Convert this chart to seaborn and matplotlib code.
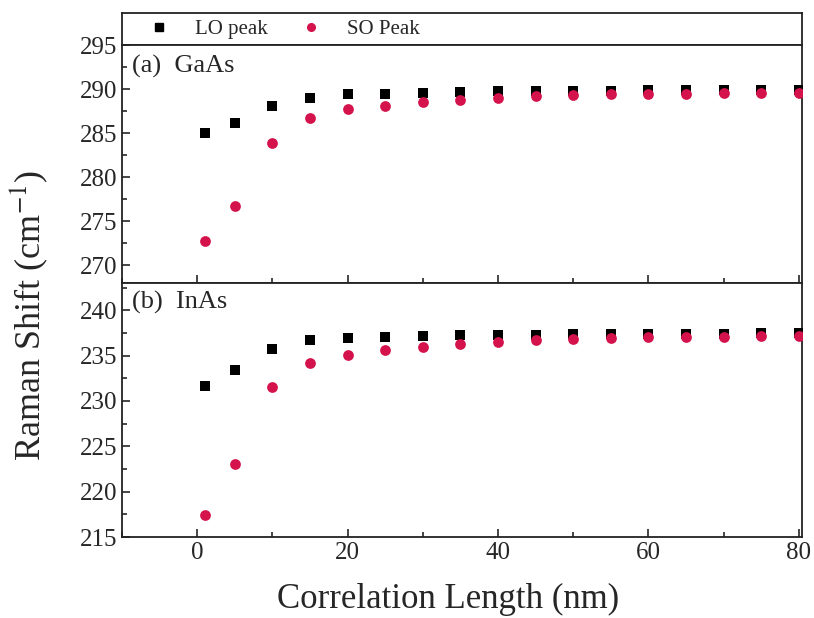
import numpy as np
import pandas as pd
import matplotlib
matplotlib.use("Agg")
import matplotlib.pyplot as plt
import seaborn as sns
from matplotlib.ticker import MultipleLocator

# Datos
corr_length = [1, 5, 10, 15, 20, 25, 30, 35, 40, 45, 50, 55, 60, 65, 70, 75, 80]
gaas_lo = [285.0, 286.2, 288.1, 289.0, 289.4, 289.5, 289.6, 289.7, 289.75, 289.8,
           289.8, 289.8, 289.85, 289.85, 289.85, 289.9, 289.9]
gaas_so = [272.8, 276.7, 283.9, 286.7, 287.7, 288.1, 288.55, 288.8, 289.0, 289.2,
           289.3, 289.4, 289.45, 289.5, 289.55, 289.6, 289.6]
inas_lo = [231.6, 233.4, 235.7, 236.7, 236.95, 237.05, 237.15, 237.25, 237.3, 237.3,
           237.35, 237.35, 237.4, 237.4, 237.4, 237.45, 237.45]
inas_so = [217.4, 223.0, 231.5, 234.2, 235.1, 235.6, 236.0, 236.3, 236.5, 236.7,
           236.85, 236.95, 237.0, 237.05, 237.1, 237.15, 237.15]

peak_names = ["LO peak", "SO Peak"]
peak_colors = {"LO peak": "#000000", "SO Peak": "#D4134C"}
peak_markers = {"LO peak": "s", "SO Peak": "o"}
peak_sizes = {"LO peak": 48, "SO Peak": 60}

sns.set_style("ticks")
plt.rcParams["font.family"] = ["Liberation Serif", "DejaVu Serif"]
plt.rcParams["mathtext.fontset"] = "stix"


def long_frame(lo, so):
    return pd.DataFrame({
        "x": corr_length * 2,
        "y": lo + so,
        "peak": [peak_names[0]] * len(lo) + [peak_names[1]] * len(so),
    })


def style_axis(ax, ylim, yticks):
    ax.set_xlim(-10, 80.4)
    ax.set_ylim(*ylim)
    ax.set_yticks(yticks)
    ax.xaxis.set_major_locator(MultipleLocator(20))
    ax.xaxis.set_minor_locator(MultipleLocator(10))
    ax.yaxis.set_minor_locator(MultipleLocator(2.5))
    ax.tick_params(which="both", direction="in", top=False, right=False,
                   labelsize=18, width=1.2)
    ax.tick_params(which="major", length=6)
    ax.tick_params(which="minor", length=3.5)
    for sp in ax.spines.values():
        sp.set_linewidth(1.3)
        sp.set_color("#222222")
    ax.set_xlabel("")
    ax.set_ylabel("")


fig = plt.figure(figsize=(8.14, 6.18), dpi=100)
ax_leg = fig.add_axes([0.150, 0.927, 0.835, 0.052])
ax_top = fig.add_axes([0.150, 0.542, 0.835, 0.385])
ax_bot = fig.add_axes([0.150, 0.131, 0.835, 0.411])

for ax, lo, so in [(ax_top, gaas_lo, gaas_so), (ax_bot, inas_lo, inas_so)]:
    df = long_frame(lo, so)
    for name in peak_names:
        sub = df[df["peak"] == name]
        sns.scatterplot(data=sub, x="x", y="y", ax=ax, color=peak_colors[name],
                        marker=peak_markers[name], s=peak_sizes[name],
                        linewidth=0, label=name, legend=False, zorder=3)

style_axis(ax_top, (268, 295), np.arange(270, 296, 5))
style_axis(ax_bot, (215, 243), np.arange(215, 241, 5))
ax_top.tick_params(labelbottom=False)

ax_top.text(0.015, 0.91, "(a)  GaAs", transform=ax_top.transAxes,
            fontsize=19, va="center", ha="left")
ax_bot.text(0.015, 0.925, "(b)  InAs", transform=ax_bot.transAxes,
            fontsize=19, va="center", ha="left")

# Franja superior con la leyenda
ax_leg.set_xticks([])
ax_leg.set_yticks([])
for sp in ax_leg.spines.values():
    sp.set_linewidth(1.3)
    sp.set_color("#222222")
handles = [plt.Line2D([], [], linestyle="none", marker=peak_markers[n],
                      color=peak_colors[n], markersize=5.5) for n in peak_names]
ax_leg.legend(handles, peak_names, loc="center left", bbox_to_anchor=(0.012, 0.5),
              ncol=2, frameon=False, fontsize=15, handletextpad=0.7,
              columnspacing=1.1, borderaxespad=0)

fig.text(0.035, 0.49, "Raman Shift (cm$^{-1}$)", rotation=90, fontsize=26,
         ha="center", va="center")
fig.text(0.55, 0.03, "Correlation Length (nm)", fontsize=25,
         ha="center", va="center")

plt.savefig("out.png", dpi=100)
plt.close()
